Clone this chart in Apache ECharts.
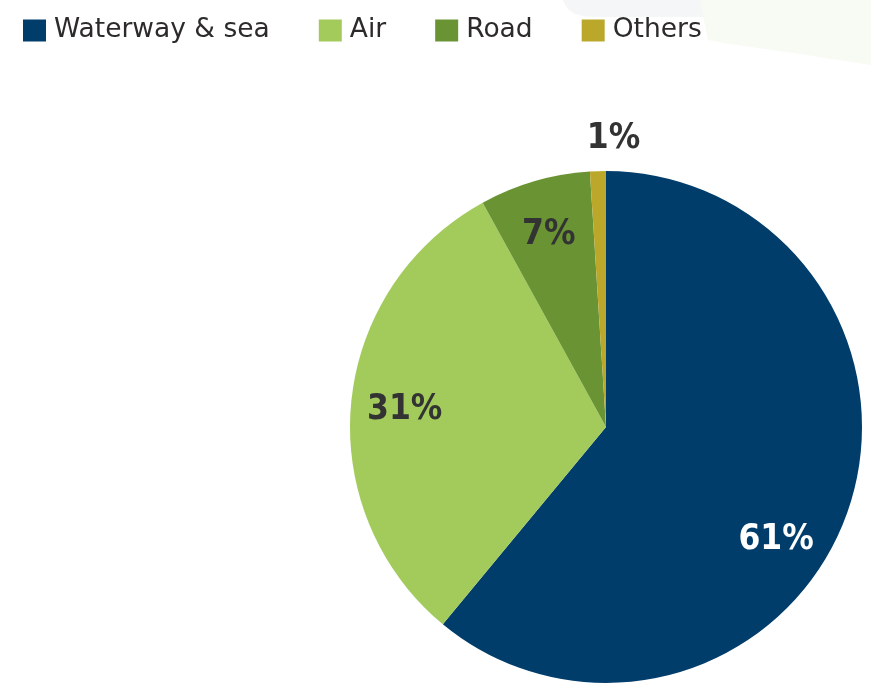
<!DOCTYPE html>
<html>
<head>
<meta charset="utf-8">
<style>
  html, body { margin: 0; padding: 0; background: #ffffff; }
  #chart { width: 871px; height: 690px; }
</style>
<script src="https://cdn.jsdelivr.net/npm/echarts@6/dist/echarts.min.js"></script>
</head>
<body>
<div id="chart"></div>
<script>
// Transport modes and their share (%)
const modes = ['Waterway & sea', 'Air', 'Road', 'Others'];
const shares = [61, 31, 7, 1];
const modeColors = ['#003d6b', '#a2cb5b', '#6a9434', '#bba82a'];
const labelColors = ['#ffffff', '#333333', '#333333', '#333333'];
// nudges for individual percentage labels
const labelOffsets = [[-23, 43], [3, 2], [0, 5], [14, -83]];

const chart = echarts.init(document.getElementById('chart'), null, { renderer: 'canvas' });

const center = [606, 427];
const radius = 256;

const sliceData = modes.map((name, i) => ({
  name: name,
  value: shares[i],
  itemStyle: { color: modeColors[i] }
}));

const labelData = modes.map((name, i) => ({
  name: name,
  value: shares[i],
  label: { color: labelColors[i], offset: labelOffsets[i] }
}));

const option = {
  backgroundColor: '#ffffff',
  animation: false,
  graphic: [
    {
      type: 'polygon',
      silent: true,
      z: -10,
      shape: {
        points: [[563, 0], [565, 5], [569, 10], [575, 14], [585, 16.5], [600, 17], [705, 17], [705, 0]]
      },
      style: { fill: '#f5f6f8' }
    },
    {
      type: 'polygon',
      silent: true,
      z: -9,
      shape: { points: [[700, 0], [871, 0], [871, 65], [800, 54], [730, 44], [708, 40]] },
      style: { fill: '#f8faf4' }
    }
  ],
  legend: {
    left: 23,
    top: 17,
    padding: 0,
    itemWidth: 23,
    itemHeight: 22,
    itemGap: 49,
    icon: 'rect',
    selectedMode: false,
    data: modes,
    textStyle: {
      fontFamily: '"DejaVu Sans", sans-serif',
      fontSize: 26.5,
      lineHeight: 22,
      color: '#2d2a2b',
      padding: [2, 0, 0, 3]
    }
  },
  series: [
    {
      type: 'pie',
      center: center,
      radius: radius,
      startAngle: 90,
      clockwise: true,
      silent: true,
      label: { show: false },
      labelLine: { show: false },
      itemStyle: { borderWidth: 0 },
      data: sliceData
    },
    {
      // transparent ring carrying the percentage labels at ~0.79 of the radius
      type: 'pie',
      center: center,
      radius: [radius * 0.58, radius],
      startAngle: 90,
      clockwise: true,
      silent: true,
      itemStyle: { color: 'rgba(0,0,0,0)', borderWidth: 0 },
      labelLine: { show: false },
      label: {
        show: true,
        position: 'inside',
        formatter: '{c}%',
        fontFamily: '"DejaVu Sans Condensed", "DejaVu Sans", sans-serif',
        fontWeight: 'bold',
        fontSize: 35
      },
      data: labelData
    }
  ]
};

chart.setOption(option);
</script>
</body>
</html>
